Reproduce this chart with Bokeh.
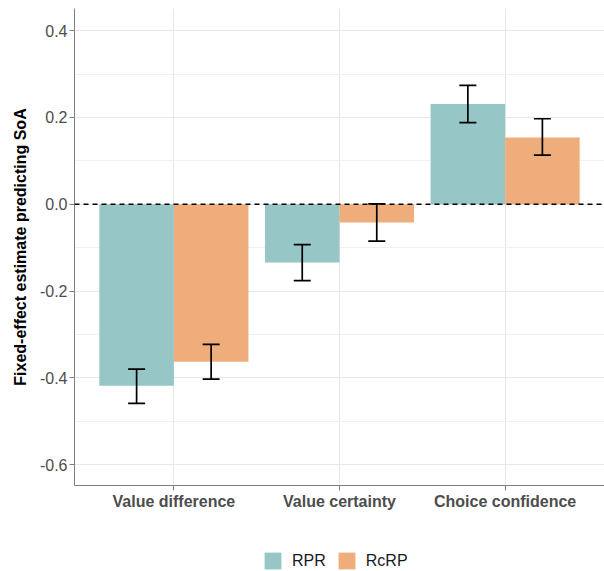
from bokeh.plotting import figure
from bokeh.layouts import column
from bokeh.models import (ColumnDataSource, FactorRange, Range1d, Span, Whisker,
                          TeeHead, Legend, LegendItem, FixedTicker)
from bokeh.transform import dodge
from bokeh.embed import file_html
from bokeh.resources import INLINE

categories = ["Value difference", "Value certainty", "Choice confidence"]
groups = ["RPR", "RcRP"]
rpr_est = [-0.418, -0.134, 0.231]
rpr_lo = [-0.459, -0.176, 0.188]
rpr_hi = [-0.380, -0.093, 0.274]
rcrp_est = [-0.363, -0.042, 0.154]
rcrp_lo = [-0.403, -0.085, 0.113]
rcrp_hi = [-0.323, 0.001, 0.197]
y_ticks = [-0.6, -0.4, -0.2, 0.0, 0.2, 0.4]
y_minor = [-0.5, -0.3, -0.1, 0.1, 0.3]

TEAL = "#96c6c5"
ORANGE = "#f0ad7c"
FONT = "Liberation Sans"

src = ColumnDataSource(dict(cat=categories, rpr=rpr_est, rpr_lo=rpr_lo, rpr_hi=rpr_hi,
                            rcrp=rcrp_est, rcrp_lo=rcrp_lo, rcrp_hi=rcrp_hi))

p = figure(width=604, height=520,
           x_range=FactorRange(factors=categories, range_padding=0.1,
                               range_padding_units="absolute"),
           y_range=Range1d(-0.648, 0.451),
           output_backend="svg", toolbar_location=None,
           min_border_left=74, min_border_right=0, min_border_top=8,
           min_border_bottom=35)
p.outline_line_color = None

off = 0.225
r1 = p.vbar(x=dodge("cat", -off, range=p.x_range), top="rpr", width=0.45,
            source=src, fill_color=TEAL, line_color=None)
r2 = p.vbar(x=dodge("cat", off, range=p.x_range), top="rcrp", width=0.45,
            source=src, fill_color=ORANGE, line_color=None)

for key, o in (("rpr", -off), ("rcrp", off)):
    w = Whisker(base=dodge("cat", o, range=p.x_range), upper=key + "_hi", lower=key + "_lo",
                source=src, line_width=1.7, line_color="black", level="overlay",
                upper_head=TeeHead(size=17, line_width=1.7, line_color="black"),
                lower_head=TeeHead(size=17, line_width=1.7, line_color="black"))
    p.add_layout(w)

p.add_layout(Span(location=0, dimension="width", line_dash="5 4",
                  line_color="black", line_width=1.5))

# axes
p.yaxis.ticker = FixedTicker(ticks=y_ticks, minor_ticks=y_minor)
p.yaxis.major_label_overrides = {t: f"{t:.1f}" for t in y_ticks}
for ax in (p.xaxis, p.yaxis):
    ax.axis_line_color = "#7f7f7f"
    ax.major_tick_line_color = "#7f7f7f"
    ax.major_tick_out = 5
    ax.major_tick_in = 0
    ax.minor_tick_line_color = None
    ax.major_label_text_font = FONT
    ax.major_label_text_color = "#4d4d4d"
p.yaxis.major_label_text_font_size = "16px"
p.xaxis.major_label_text_font_size = "16px"
p.xaxis.major_label_text_font_style = "bold"
p.xaxis.major_label_standoff = 2
p.yaxis.major_label_standoff = 2
p.yaxis.axis_label = "Fixed-effect estimate predicting SoA"
p.yaxis.axis_label_text_font = FONT
p.yaxis.axis_label_text_font_size = "16px"
p.yaxis.axis_label_text_font_style = "bold"
p.yaxis.axis_label_text_color = "black"
p.yaxis.axis_label_standoff = 8

p.ygrid.grid_line_color = "#e8e8e8"
p.ygrid.minor_grid_line_color = "#f0f0f0"
p.xgrid.grid_line_color = "#e8e8e8"

# legend strip below the chart (its bars sit outside the visible y range)
pl = figure(width=604, height=51, x_range=FactorRange(factors=categories),
            y_range=Range1d(5, 6),
            output_backend="svg", toolbar_location=None,
            x_axis_location=None, y_axis_location=None,
            min_border_left=0, min_border_right=0, min_border_top=0, min_border_bottom=0)
pl.outline_line_color = None
pl.grid.visible = False
l1 = pl.vbar(x="cat", top="rpr", width=0.45, source=src, fill_color=TEAL, line_color=None)
l2 = pl.vbar(x="cat", top="rcrp", width=0.45, source=src, fill_color=ORANGE, line_color=None)
legend = Legend(items=[LegendItem(label=groups[0], renderers=[l1], index=0),
                       LegendItem(label=groups[1], renderers=[l2], index=0)],
                orientation="horizontal", location=(188, 0),
                glyph_width=21, glyph_height=21, label_standoff=9, spacing=10,
                label_text_font=FONT, label_text_font_size="16px",
                label_text_color="#1a1a1a", border_line_color=None,
                background_fill_alpha=0, padding=0, margin=0)
pl.add_layout(legend, "center")

layout = column(p, pl, spacing=0)
open("out.html", "w").write(file_html(layout, INLINE))
